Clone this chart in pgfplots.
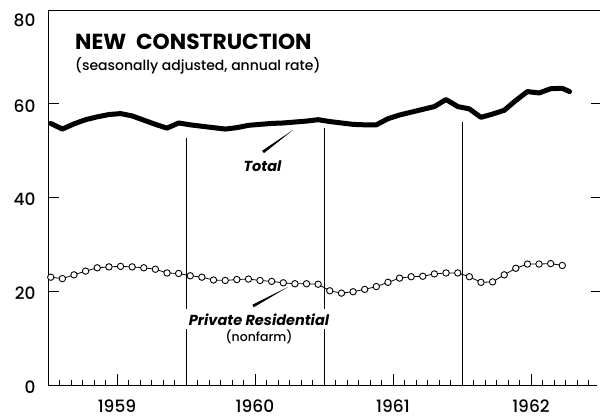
\documentclass[border=0pt]{standalone}
\usepackage{fontspec}
\setmainfont{Poppins}
\newfontfamily\pmed{Poppins Medium}
\usepackage{pgfplots}
\pgfplotsset{compat=1.18}
\begin{document}
\begin{tikzpicture}
\begin{axis}[
  scale only axis,
  width=552bp, height=375bp,
  xmin=0, xmax=48, ymin=0, ymax=80,
  axis line style={draw=none},
  clip=false,
  xtick={6,18,30,42},
  xticklabels={1959,1960,1961,1962},
  minor xtick={1,...,47},
  ytick={0,20,40,60},
  extra y ticks={80},
  extra y tick style={yticklabel style={yshift=-8bp}},
  tick pos=left,
  tick align=inside,
  major tick length=11bp,
  minor tick length=5bp,
  tick style={black, line width=0.8bp},
  ticklabel style={font=\pmed\fontsize{17bp}{20bp}\selectfont},
  /pgf/number format/assume math mode=true,
  yticklabel style={xshift=-9bp, yshift=-2bp},
  xticklabel style={yshift=-11bp},
]
% frame: left, top, bottom (no right line)
\draw[line width=0.9bp] (rel axis cs:1,1) -- (rel axis cs:0,1) -- (rel axis cs:0,0) -- (rel axis cs:0.995,0);
\draw[line width=0.8bp] (axis cs:48,20) -- ++(-9bp,0);
\draw[line width=0.8bp] (axis cs:48,40) -- ++(-9bp,0);
\draw[line width=0.8bp] (axis cs:48,60) -- ++(-9bp,0);
% year boundaries
\draw[line width=0.6bp] (axis cs:12,0) -- (axis cs:12,52.7);
\draw[line width=0.6bp] (axis cs:24,0) -- (axis cs:24,54.8);
\draw[line width=0.6bp] (axis cs:36,0) -- (axis cs:36,56.1);

% Total
\addplot[black, line width=5bp, line join=round, line cap=round] coordinates {
(0.24,55.8) (1.25,54.6) (2.26,55.7) (3.27,56.6) (4.28,57.2) (5.30,57.7)
(6.31,57.9) (7.32,57.4) (8.33,56.5) (9.34,55.6) (10.35,54.8) (11.36,55.9)
(12.37,55.5) (13.38,55.2) (14.39,54.9) (15.41,54.6) (16.42,54.9) (17.43,55.4)
(18.44,55.6) (19.45,55.8) (20.46,55.9) (21.47,56.1) (22.48,56.3) (23.49,56.6)
(24.50,56.2) (25.52,55.9) (26.53,55.6) (27.54,55.5) (28.55,55.5) (29.56,56.8)
(30.57,57.6) (31.58,58.2) (32.59,58.8) (33.60,59.4) (34.61,60.9) (35.63,59.4)
(36.64,58.9) (37.65,57.1) (38.66,57.8) (39.67,58.6) (40.68,60.7) (41.69,62.6)
(42.70,62.3) (43.71,63.2) (44.72,63.3) (45.35,62.6)
};

% Private residential (nonfarm)
\addplot[black, line width=0.8bp, mark=*, mark size=3.2bp,
  mark options={fill=white, draw=black, line width=0.9bp}] coordinates {
(0.24,23.0) (1.25,22.7) (2.26,23.5) (3.27,24.3) (4.28,25.0) (5.30,25.2)
(6.31,25.3) (7.32,25.2) (8.33,25.0) (9.34,24.7) (10.35,23.9) (11.36,23.8)
(12.37,23.3) (13.38,23.0) (14.39,22.4) (15.41,22.3) (16.42,22.5) (17.43,22.6)
(18.44,22.3) (19.45,22.1) (20.46,21.8) (21.47,21.6) (22.48,21.6) (23.49,21.5)
(24.50,20.1) (25.52,19.6) (26.53,19.9) (27.54,20.4) (28.55,21.0) (29.56,21.9)
(30.57,22.8) (31.58,23.1) (32.59,23.2) (33.60,23.7) (34.61,23.9) (35.63,23.9)
(36.64,23.1) (37.65,21.9) (38.66,22.0) (39.67,23.5) (40.68,24.9) (41.69,25.8)
(42.70,25.8) (43.71,25.9) (44.72,25.5)
};

% titles
\node[anchor=base west, inner sep=0pt, font=\bfseries\fontsize{21.8bp}{24bp}\selectfont] at (axis cs:2.35,71.6) {NEW\hspace{0.45em}CONSTRUCTION};
\node[anchor=base west, inner sep=0pt, font=\pmed\fontsize{14bp}{16bp}\selectfont] at (axis cs:2.35,67.0) {(seasonally adjusted, annual rate)};

% labels with leaders
\fill ([shift={(-0.9bp,1.2bp)}]axis cs:18.70,49.71) -- (axis cs:21.30,54.40) -- ([shift={(0.9bp,-1.2bp)}]axis cs:18.70,49.71) -- cycle;
\node[anchor=base, font=\bfseries\itshape\fontsize{14.5bp}{17bp}\selectfont] at (axis cs:18.65,45.6) {Total};
\fill ([shift={(-0.7bp,1.3bp)}]axis cs:17.83,16.85) -- (axis cs:20.87,20.91) -- ([shift={(0.7bp,-1.3bp)}]axis cs:17.83,16.85) -- cycle;
\node[anchor=base, fill=white, inner xsep=3bp, inner ysep=4bp, font=\bfseries\itshape\fontsize{14.5bp}{17bp}\selectfont] at (axis cs:18.35,12.8) {Private Residential};
\node[anchor=base, font=\pmed\fontsize{12.5bp}{15bp}\selectfont] at (axis cs:18.35,9.2) {(nonfarm)};

% page size
\path (rel axis cs:0,0) ++(-48bp,-35bp) rectangle ++(601bp,420bp);
\end{axis}
\end{tikzpicture}
\end{document}
